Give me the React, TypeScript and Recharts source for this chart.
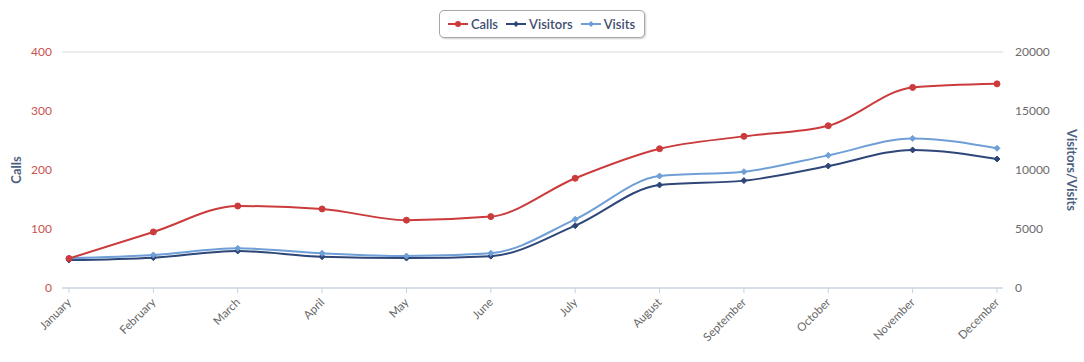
import React from 'react';
import { LineChart, Line, XAxis, YAxis, CartesianGrid, Label } from 'recharts';

const months = ['January', 'February', 'March', 'April', 'May', 'June', 'July', 'August', 'September', 'October', 'November', 'December'];
const calls = [50, 95, 139, 134, 115, 121, 186, 236, 257, 275, 340, 346];
const visitors = [2370, 2570, 3140, 2650, 2540, 2700, 5280, 8730, 9100, 10340, 11700, 10930];
const visits = [2520, 2800, 3360, 2940, 2710, 2950, 5820, 9490, 9860, 11240, 12680, 11840];
const leftTicks = [0, 100, 200, 300, 400];
const rightTicks = [0, 5000, 10000, 15000, 20000];

const data = months.map((m, i) => ({ month: m, Calls: calls[i], Visitors: visitors[i], Visits: visits[i] }));

const RED = '#cc3b3b';
const DARK = '#2e4778';
const LIGHT = '#6f9fd6';
const FONT = 'Lato, "DejaVu Sans", sans-serif';

const Diamond = (color: string) => (props: any) => {
  const { cx, cy, index } = props;
  if (cx == null || cy == null) return <g key={index} />;
  const s = 3;
  return <path key={index} d={`M${cx},${cy - s}L${cx + s},${cy}L${cx},${cy + s}L${cx - s},${cy}Z`} fill={color} stroke={color} strokeWidth={1} />;
};

const XTick = (props: any) => {
  const { x, y, payload } = props;
  return (
    <text x={x + 3} y={y + 8} transform={`rotate(-45 ${x + 3} ${y + 8})`} textAnchor="end" fill="#666" fontSize={11.5} fontFamily={FONT}>
      {payload.value}
    </text>
  );
};

const LegendBox = () => {
  const item = (color: string, label: string, circle: boolean) => (
    <span style={{ display: 'inline-flex', alignItems: 'center', marginRight: 8 }}>
      <svg width={20} height={10} style={{ marginRight: 3 }}>
        <line x1={0} y1={5} x2={20} y2={5} stroke={color} strokeWidth={2} />
        {circle ? <circle cx={10} cy={5} r={3} fill={color} /> : <path d="M10,2L13,5L10,8L7,5Z" fill={color} />}
      </svg>
      <span>{label}</span>
    </span>
  );
  return (
    <div style={{ position: 'absolute', top: 10, left: 0, width: 1084, display: 'flex', justifyContent: 'center', zIndex: 2 }}>
      <div style={{ display: 'inline-flex', alignItems: 'center', border: '1px solid #a8a8a8', borderRadius: 5, padding: '5px 1px 5px 8px', boxShadow: '1px 1px 2px rgba(0,0,0,0.2)', fontFamily: FONT, fontSize: 13, color: '#3e4e6e', fontWeight: 600, background: '#fff' }}>
        {item(RED, 'Calls', true)}
        {item(DARK, 'Visitors', false)}
        {item(LIGHT, 'Visits', false)}
      </div>
    </div>
  );
};

export default function App() {
  return (
    <div style={{ position: 'absolute', left: 0, top: 0, width: 1084, height: 362, background: '#fff' }}>
      <LineChart width={1084} height={362} data={data} margin={{ top: 52, right: 0, left: 0, bottom: 4 }}>
        <CartesianGrid vertical={false} stroke="#d8d8d8" />
        <XAxis dataKey="month" interval={0} height={70} padding={{ left: 7, right: 6 }} stroke="#c4d2e2" tickSize={5} tick={<XTick />} tickLine={{ stroke: '#c4d2e2' }} axisLine={{ stroke: '#c4d2e2' }} />
        <YAxis yAxisId="left" orientation="left" width={62} domain={[0, 400]} ticks={leftTicks} axisLine={false} tickLine={false} tickMargin={4} tick={{ fill: '#c9524f', fontSize: 12, fontFamily: FONT }}>
          <Label content={({ viewBox }: any) => {
            const x = viewBox.x + 18;
            const y = viewBox.y + viewBox.height / 2;
            return <text x={x} y={y} transform={`rotate(-90 ${x} ${y})`} textAnchor="middle" dominantBaseline="middle" fill="#4d5f80" fontSize={13} fontWeight={700} fontFamily={FONT}>Calls</text>;
          }} />
        </YAxis>
        <YAxis yAxisId="right" orientation="right" width={81} domain={[0, 20000]} ticks={rightTicks} axisLine={false} tickLine={false} tickMargin={6} tick={{ fill: '#6b6b6b', fontSize: 12, fontFamily: FONT, textAnchor: 'start' }}>
          <Label content={({ viewBox }: any) => {
            const x = viewBox.x + 67;
            const y = viewBox.y + viewBox.height / 2;
            return <text x={x} y={y} transform={`rotate(90 ${x} ${y})`} textAnchor="middle" dominantBaseline="middle" fill="#4d5f80" fontSize={13} fontWeight={700} fontFamily={FONT}>Visitors/Visits</text>;
          }} />
        </YAxis>
        <Line yAxisId="right" type="monotone" dataKey="Visitors" stroke={DARK} strokeWidth={2} dot={Diamond(DARK)} isAnimationActive={false} />
        <Line yAxisId="right" type="monotone" dataKey="Visits" stroke={LIGHT} strokeWidth={2} dot={Diamond(LIGHT)} isAnimationActive={false} />
        <Line yAxisId="left" type="monotone" dataKey="Calls" stroke={RED} strokeWidth={2} dot={{ r: 3, fill: RED, stroke: RED, strokeWidth: 1 }} isAnimationActive={false} />
      </LineChart>
      <LegendBox />
    </div>
  );
}
